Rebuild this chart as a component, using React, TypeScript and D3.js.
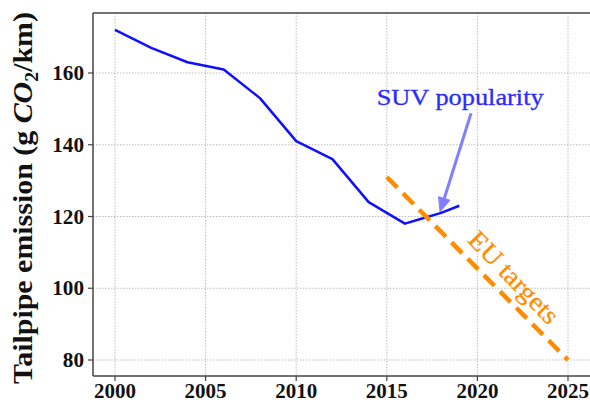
import React from 'react'
import * as d3 from 'd3'

const years = [2000, 2002, 2004, 2006, 2008, 2010, 2012, 2014, 2016, 2017, 2018, 2019]
const emission = [172, 167, 163, 161, 153, 141, 136, 124, 118, 119.5, 121, 123]
const targetYears = [2015, 2025]
const targetValues = [131, 80]
const xTicks = [2000, 2005, 2010, 2015, 2020, 2025]
const yTicks = [80, 100, 120, 140, 160]

const W = 590
const H = 403
const frame = { left: 93, top: 13, right: 592, bottom: 376 }

export default function App() {
  const x = d3.scaleLinear().domain([2000, 2025]).range([115, 568])
  const y = d3.scaleLinear().domain([80, 160]).range([360, 73])

  const line = d3.line<number>()
    .x((_, i) => x(years[i]))
    .y(d => y(d))
  const targetLine = d3.line<number>()
    .x((_, i) => x(targetYears[i]))
    .y(d => y(d))

  const tickFont = {
    fontFamily: 'Liberation Serif', fontWeight: 'bold' as const, fontSize: 20, fill: '#111',
    lengthAdjust: 'spacingAndGlyphs'
  }

  // annotation arrow
  const tail = [x(2019.65), y(148.8)]
  const head = [x(2017.94), y(121.3)]
  const ang = Math.atan2(head[1] - tail[1], head[0] - tail[0])
  const hl = 14, hw = 6
  const bx = head[0] - hl * Math.cos(ang), by = head[1] - hl * Math.sin(ang)
  const headPts = [
    [head[0], head[1]],
    [bx + hw * Math.sin(ang), by - hw * Math.cos(ang)],
    [bx - hw * Math.sin(ang), by + hw * Math.cos(ang)]
  ].map(p => p.join(',')).join(' ')

  return (
    <svg width={W} height={H} style={{ position: 'absolute', left: 0, top: 0, background: '#fff' }}>
      <defs>
        <clipPath id="plot">
          <rect x={frame.left} y={frame.top} width={frame.right - frame.left} height={frame.bottom - frame.top} />
        </clipPath>
      </defs>

      {/* grid */}
      <g stroke="#bdbdbd" strokeWidth={1} strokeDasharray="1.5,1.5">
        {xTicks.map(t => (
          <line key={'gx' + t} x1={x(t)} x2={x(t)} y1={frame.top} y2={frame.bottom} />
        ))}
        {yTicks.map(t => (
          <line key={'gy' + t} x1={frame.left} x2={frame.right} y1={y(t)} y2={y(t)} />
        ))}
      </g>

      <g clipPath="url(#plot)">
        <path d={line(emission) || ''} fill="none" stroke="#1010ff" strokeWidth={2.5} strokeLinejoin="round" />
        <path d={targetLine(targetValues) || ''} fill="none" stroke="#ff8c00" strokeWidth={4.5} strokeDasharray="15,8" />
      </g>

      {/* annotation */}
      <line x1={tail[0]} y1={tail[1]} x2={bx} y2={by} stroke="#8080ff" strokeWidth={3} />
      <polygon points={headPts} fill="#8080ff" stroke="#8080ff" strokeWidth={1} />
      <text x={x(2019.05)} y={y(151)} textAnchor="middle" fontFamily="Liberation Serif" fontSize={24}
        fill="#2a2aff" stroke="#2a2aff" strokeWidth={0.3} textLength={167} lengthAdjust="spacingAndGlyphs">SUV popularity</text>

      <text transform={`translate(${x(2021.9)},${y(102.5)}) rotate(46)`} textAnchor="middle" dominantBaseline="middle"
        fontFamily="Liberation Serif" fontSize={26} fill="#ff8c00" stroke="#ff8c00" strokeWidth={0.3}
        textLength={118} lengthAdjust="spacingAndGlyphs">EU targets</text>

      {/* frame */}
      <g stroke="#444" strokeWidth={1.5} fill="none">
        <line x1={frame.left} x2={frame.right} y1={frame.top} y2={frame.top} />
        <line x1={frame.left} x2={frame.left} y1={frame.top} y2={frame.bottom} />
        <line x1={frame.left} x2={frame.right} y1={frame.bottom} y2={frame.bottom} />
      </g>

      {/* axes ticks */}
      <g stroke="#444" strokeWidth={1.2}>
        {xTicks.map(t => (
          <line key={'tx' + t} x1={x(t)} x2={x(t)} y1={frame.bottom} y2={frame.bottom + 5} />
        ))}
        {yTicks.map(t => (
          <line key={'ty' + t} x1={frame.left - 5} x2={frame.left} y1={y(t)} y2={y(t)} />
        ))}
      </g>
      {xTicks.map(t => (
        <text key={'lx' + t} x={x(t)} y={frame.bottom + 22} textAnchor="middle" textLength={42} {...tickFont}>{t}</text>
      ))}
      {yTicks.map(t => (
        <text key={'ly' + t} x={frame.left - 9} y={y(t) + 7} textAnchor="end" textLength={String(t).length * 10.6}
          {...tickFont}>{t}</text>
      ))}

      <text transform="translate(32,198) rotate(-90)" textAnchor="middle" fontFamily="Liberation Serif"
        fontWeight="bold" fontSize={27} fill="#111" textLength={372} lengthAdjust="spacingAndGlyphs">
        Tailpipe emission (g <tspan fontStyle="italic">CO</tspan><tspan fontSize={18} dy={6}>2</tspan><tspan dy={-6}>/km)</tspan>
      </text>
    </svg>
  )
}
